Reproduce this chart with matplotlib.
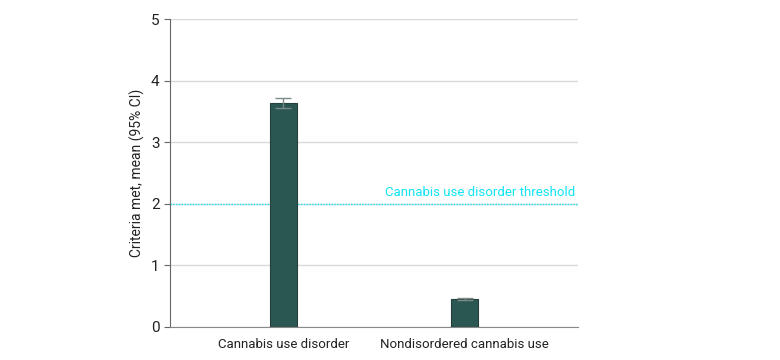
import matplotlib
matplotlib.use("Agg")
from matplotlib import pyplot as plt
import numpy as np

categories = ["Cannabis use disorder", "Nondisordered cannabis use"]
means = [3.64, 0.455]
ci_low = [3.56, 0.44]
ci_high = [3.72, 0.47]
threshold = 2
threshold_label = "Cannabis use disorder threshold"

plt.rcParams['font.family'] = ['Roboto', 'DejaVu Sans']

fig = plt.figure(figsize=(7.8, 3.6), dpi=100)
ax = fig.add_axes([0.218, 0.092, 0.523, 0.855])

x = np.arange(len(categories))
m = np.array(means)
yerr = np.array([m - np.array(ci_low), np.array(ci_high) - m])
ax.bar(x, m, width=0.15, color="#2b5753", edgecolor="#243f3d", linewidth=0.8, zorder=3)
ax.errorbar(x, m, yerr=yerr, fmt="none", ecolor="#7a8a88", elinewidth=1, capsize=6, capthick=1, zorder=4)

ax.axhline(threshold, color="#10e4f4", linestyle=(0, (1, 1)), linewidth=1, zorder=2)
ax.text(1.61, threshold + 0.08, threshold_label, color="#10e4f4", fontsize=9.5, ha="right", va="bottom")

ax.set_xlim(-0.625, 1.625)
ax.set_ylim(0, 5)
ax.set_yticks(range(6))
ax.set_xticks(x)
ax.set_xticklabels(categories, fontsize=9.5, color="#222222")
ax.tick_params(axis="y", labelsize=11, colors="#222222", length=4, color="#666666")
ax.tick_params(axis="x", length=0, pad=8)
ax.set_ylabel("Criteria met, mean (95% CI)", fontsize=10, color="#222222", labelpad=4)

ax.grid(axis="y", color="#d9d9d9", linewidth=1, zorder=0)
for s in ["top", "right"]:
    ax.spines[s].set_visible(False)
ax.spines["left"].set_color("#666666")
ax.spines["bottom"].set_color("#888888")

fig.savefig("out.png", dpi=100)
